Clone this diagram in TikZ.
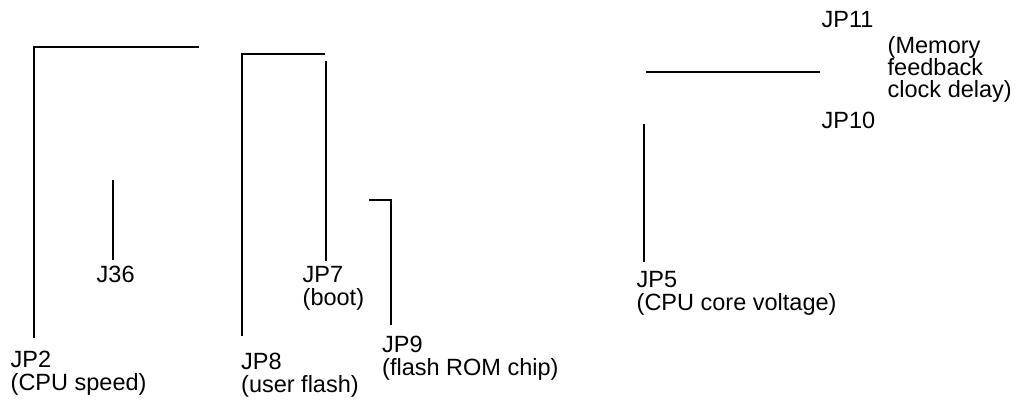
\documentclass[tikz,border=0pt]{standalone}
\usepackage{fontspec}
\setmainfont{Liberation Sans}
\begin{document}
\begin{tikzpicture}[x=1bp,y=-1bp,
  lead/.style={line width=1.2bp,black},
  lbl/.style={anchor=base west,inner sep=0pt,align=left,font=\fontsize{23.5bp}{23bp}\selectfont}]
\useasboundingbox (0,0) rectangle (1019,400);
% labels (base anchor = baseline of the last line)
\node[lbl] (jp2) at (10.5,390) {JP2\\(CPU speed)};
\node[lbl] (j36) at (96.5,282) {J36};
\node[lbl] (jp7) at (302.5,305) {JP7\\(boot)};
\node[lbl] (jp8) at (241,392.5) {JP8\\(user flash)};
\node[lbl] (jp9) at (382,375) {JP9\\(flash ROM chip)};
\node[lbl] (jp5) at (636.5,310) {JP5\\(CPU core voltage)};
\node[lbl] (jp11) at (821.5,27) {JP11};
\node[lbl,font=\fontsize{23.5bp}{22bp}\selectfont] (mem) at (887.5,97.5) {(Memory\\feedback\\clock delay)};
\node[lbl] (jp10) at (821.5,128.5) {JP10};
% leader end points
\coordinate (p2a) at (199,47);
\coordinate (p2b) at (34,47);
\coordinate (p2c) at (34,338);
\coordinate (p36a) at (113,180);
\coordinate (p36b) at (113,260);
\coordinate (p8a) at (325,54);
\coordinate (p8b) at (242,54);
\coordinate (p8c) at (242,336);
\coordinate (p7a) at (326,61);
\coordinate (p7b) at (326,261);
\coordinate (p9a) at (369,200);
\coordinate (p9b) at (391,200);
\coordinate (p9c) at (391,325);
\coordinate (p5a) at (644,124);
\coordinate (p5b) at (644,262);
\coordinate (p11a) at (646,72);
\coordinate (p11b) at (820,72);
% leaders
\draw[lead] (p2a) -- (p2b) -- (p2c);
\draw[lead] (p36a) -- (p36b);
\draw[lead] (p8a) -- (p8b) -- (p8c);
\draw[lead] (p7a) -- (p7b);
\draw[lead] (p9a) -- (p9b) -- (p9c);
\draw[lead] (p5a) -- (p5b);
\draw[lead] (p11a) -- (p11b);
\end{tikzpicture}
\end{document}
